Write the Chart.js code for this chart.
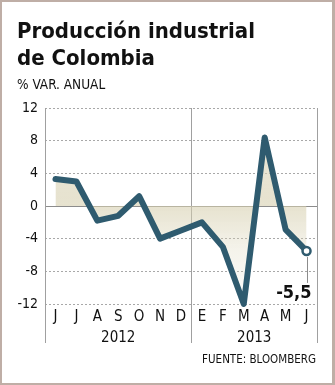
<!DOCTYPE html>
<html>
<head>
<meta charset="utf-8">
<script src="https://cdn.jsdelivr.net/npm/chart.js@4/dist/chart.umd.min.js"></script>
<style>
  html, body { margin: 0; padding: 0; background: #fff; }
  .frame {
    position: relative;
    width: 335px;
    height: 385px;
    box-sizing: border-box;
    border: 2px solid #bfaea6;
    border-right-width: 3px;
    overflow: hidden;
  }
  .frame canvas { position: absolute; left: -2px; top: -2px; }
  .title {
    position: absolute; left: 15px; top: 15px;
    font-family: 'DejaVu Sans Condensed', 'DejaVu Sans', sans-serif;
    font-stretch: condensed;
    font-weight: bold; font-size: 22px; line-height: 27px; color: #111;
  }
  .subtitle {
    position: absolute; left: 15px; top: 74px;
    font-family: 'DejaVu Sans Condensed', 'DejaVu Sans', sans-serif;
    font-stretch: condensed;
    font-size: 13.5px; line-height: 17px; color: #111;
  }
  .source {
    position: absolute; right: 16px; top: 350px;
    font-family: 'DejaVu Sans Condensed', 'DejaVu Sans', sans-serif;
    font-stretch: condensed;
    font-size: 11.5px; line-height: 14px; color: #111;
  }
</style>
</head>
<body>
<div class="frame">
  <canvas id="chart" width="335" height="385"></canvas>
  <div class="title">Producción industrial<br>de Colombia</div>
  <div class="subtitle">% VAR. ANUAL</div>
  <div class="source">FUENTE: BLOOMBERG</div>
</div>
<script>
const months = ['J', 'J', 'A', 'S', 'O', 'N', 'D', 'E', 'F', 'M', 'A', 'M', 'J'];
const years = ['2012', '2013'];
const monthsPerYear = [7, 6];
const variation = [3.3, 3.0, -1.8, -1.2, 1.2, -4.0, -3.0, -2.0, -5.0, -12.0, 8.4, -2.9, -5.5];
const yTicks = [-12, -8, -4, 0, 4, 8, 12];

const FONT = "'DejaVu Sans Condensed', 'DejaVu Sans', sans-serif";
const LINE = '#2f5b6f';

const framePlugin = {
  id: 'frame',
  beforeDatasetsDraw(chart) {
    const { ctx, chartArea } = chart;
    const x = chart.scales.x;
    const y = chart.scales.y;
    const y0 = Math.round(y.getPixelForValue(0)) + 0.5;

    ctx.save();
    ctx.strokeStyle = '#8c8c8c';
    ctx.lineWidth = 1;
    ctx.beginPath();
    ctx.moveTo(chartArea.left, y0);
    ctx.lineTo(chartArea.right, y0);
    ctx.stroke();

    // vertical separators, they run down past the year labels
    const split = (x.getPixelForValue(monthsPerYear[0] - 1) + x.getPixelForValue(monthsPerYear[0])) / 2;
    const bottom = chartArea.bottom + 39;
    ctx.strokeStyle = '#a0a0a0';
    [chartArea.left, split, chartArea.right].forEach(px => {
      const xx = Math.round(px) + 0.5;
      ctx.beginPath();
      ctx.moveTo(xx, chartArea.top);
      ctx.lineTo(xx, bottom);
      ctx.stroke();
    });

    // year labels
    ctx.fillStyle = '#111';
    ctx.font = '15px ' + FONT;
    ctx.textAlign = 'center';
    ctx.textBaseline = 'middle';
    const ly = chartArea.bottom + 34;
    ctx.fillText(years[0], (chartArea.left + split) / 2, ly);
    ctx.fillText(years[1], (split + chartArea.right) / 2, ly);
    ctx.restore();
  },
  afterDatasetsDraw(chart) {
    const { ctx } = chart;
    const meta = chart.getDatasetMeta(0);
    const last = meta.data[meta.data.length - 1];
    const value = variation[variation.length - 1];

    ctx.save();
    ctx.strokeStyle = '#8c8c8c';
    ctx.lineWidth = 1;
    ctx.beginPath();
    ctx.moveTo(Math.round(last.x) + 0.5, last.y + 6);
    ctx.lineTo(Math.round(last.x) + 0.5, last.y + 32);
    ctx.stroke();

    ctx.fillStyle = '#111';
    ctx.font = 'bold 18px ' + FONT;
    ctx.textAlign = 'right';
    ctx.textBaseline = 'alphabetic';
    ctx.fillText(value.toFixed(1).replace('.', ','), last.x + 5, last.y + 47);
    ctx.restore();
  },
};

function fillGradient(context) {
  const chart = context.chart;
  const area = chart.chartArea;
  if (!area) return 'rgba(214,207,175,0.5)';
  const y = chart.scales.y;
  const zero = (y.getPixelForValue(0) - area.top) / (area.bottom - area.top);
  const g = chart.ctx.createLinearGradient(0, area.top, 0, area.bottom);
  g.addColorStop(0, 'rgba(214,207,175,0.5)');
  g.addColorStop(zero, 'rgba(214,207,175,0.6)');
  g.addColorStop(Math.min(1, zero + 0.2), 'rgba(214,207,175,0.28)');
  g.addColorStop(1, 'rgba(214,207,175,0.03)');
  return g;
}

const ctx = document.getElementById('chart').getContext('2d');

new Chart(ctx, {
  type: 'line',
  data: {
    labels: months,
    datasets: [{
      data: variation,
      borderColor: LINE,
      borderWidth: 6,
      borderJoinStyle: 'round',
      borderCapStyle: 'round',
      tension: 0,
      fill: 'origin',
      backgroundColor: fillGradient,
      pointRadius: variation.map((v, i) => i === variation.length - 1 ? 4 : 0),
      pointBackgroundColor: '#fff',
      pointBorderColor: LINE,
      pointBorderWidth: 2.5,
      clip: false,
    }],
  },
  options: {
    responsive: false,
    animation: false,
    devicePixelRatio: 1,
    layout: { padding: { top: 108, right: 18, left: 2, bottom: 2 } },
    plugins: { legend: { display: false }, tooltip: { enabled: false } },
    scales: {
      x: {
        type: 'category',
        offset: true,
        grid: { display: false, drawTicks: false },
        border: { display: false },
        ticks: {
          autoSkip: false,
          maxRotation: 0,
          padding: 4,
          color: '#111',
          font: { family: FONT, size: 15 },
        },
        afterFit(scale) { scale.height = 79; },
      },
      y: {
        min: -12,
        max: 12,
        afterBuildTicks(scale) { scale.ticks = yTicks.map(v => ({ value: v })); },
        grid: {
          drawTicks: false,
          color: c => c.tick && c.tick.value === 0 ? 'rgba(0,0,0,0)' : '#a8a8a8',
        },
        border: { display: false, dash: [2, 2] },
        ticks: {
          padding: 7,
          color: '#111',
          font: { family: FONT, size: 14 },
        },
        afterFit(scale) { scale.width = 43; },
      },
    },
  },
  plugins: [framePlugin],
});
</script>
</body>
</html>
